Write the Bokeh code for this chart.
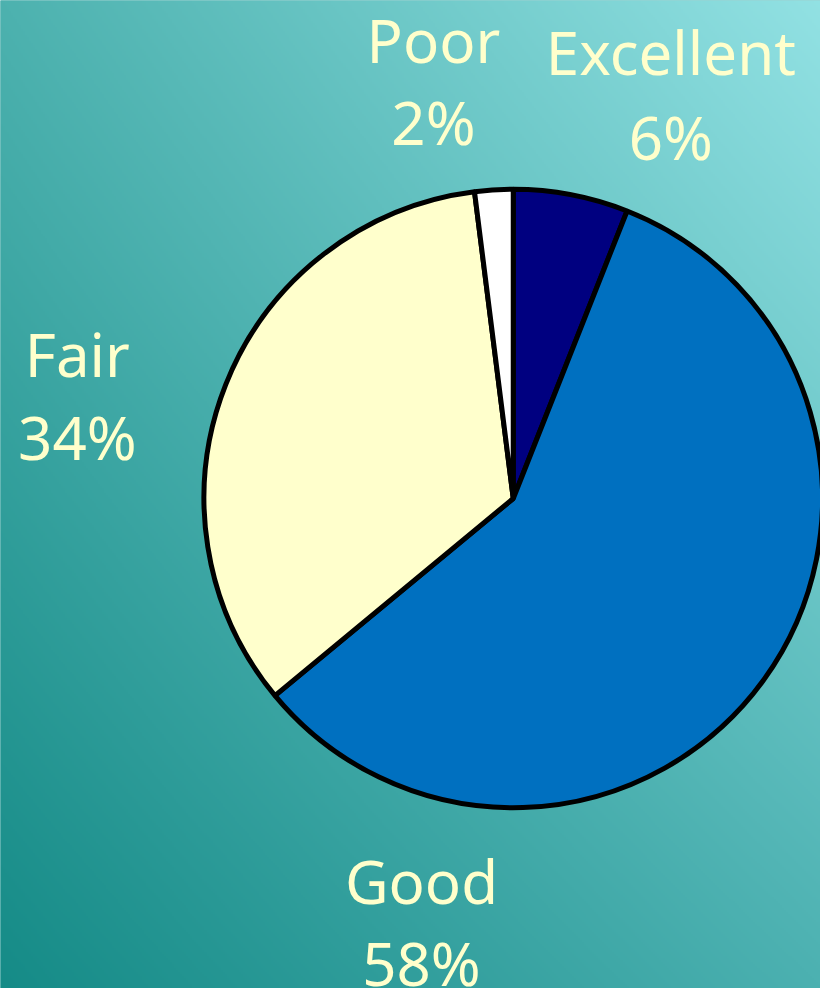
import numpy as np
from bokeh.plotting import figure
from bokeh.models import Range1d, ColumnDataSource
from bokeh.core.properties import value
from bokeh.embed import file_html
from bokeh.resources import INLINE

# ---- data ----
categories = ["Excellent", "Good", "Fair", "Poor"]
percents = [6, 58, 34, 2]
pct_labels = ["6%", "58%", "34%", "2%"]
colors = ["#000080", "#0070C0", "#FFFFCC", "#FFFFFF"]

# ---- layout (screen px of reference, y downward) ----
W, H = 820, 988
OFF = 0
cx, cy, R = 512, 497, 310
label_pos = {"Excellent": (670, 50, 135), "Good": (420, 880, 962),
             "Fair": (75, 352, 435), "Poor": (432, 38, 120)}

p = figure(width=W, height=H, output_backend="svg", toolbar_location=None,
           x_range=Range1d(OFF - 2, OFF + W), y_range=Range1d(-(OFF + H), -OFF + 2),
           min_border=0, background_fill_color="#3AA6A3",
           border_fill_color="#3AA6A3")
p.axis.visible = False
p.grid.visible = False
p.outline_line_color = None

# gradient background (dark bottom-left to light top-right)
ny, nx = H // 2, W // 2
xs = np.linspace(0, 1, nx)[None, :]
ys = np.linspace(0, 1, ny)[:, None]  # 0 bottom -> 1 top (image row 0 is bottom)
tl = np.array([0x4D, 0xB2, 0xAF]); tr = np.array([0x93, 0xE2, 0xE4])
bl = np.array([0x15, 0x8B, 0x87]); br = np.array([0x4C, 0xB1, 0xB1])
img = ((1 - xs)[..., None] * (1 - ys)[..., None] * bl + xs[..., None] * (1 - ys)[..., None] * br
       + (1 - xs)[..., None] * ys[..., None] * tl + xs[..., None] * ys[..., None] * tr)
rgba = np.zeros((ny, nx), dtype=np.uint32)
view = rgba.view(dtype=np.uint8).reshape((ny, nx, 4))
view[..., :3] = img.astype(np.uint8)
view[..., 3] = 255
p.image_rgba(image=[rgba], x=OFF - 4, y=-(OFF + H) - 2, dw=W + 8, dh=H + 8)

# pie wedges, clockwise from 12 o'clock
fr = np.array(percents) / sum(percents)
ends_cum = np.cumsum(fr)
starts_cum = ends_cum - fr
start_ang = np.pi / 2 - 2 * np.pi * starts_cum
end_ang = np.pi / 2 - 2 * np.pi * ends_cum
src = ColumnDataSource(dict(start=start_ang, end=end_ang, color=colors))
p.wedge(x=cx, y=-cy, radius=R, start_angle="start", end_angle="end",
        direction="clock", fill_color="color", line_color="black",
        line_width=5, source=src)

# labels
lx = [label_pos[c][0] for c in categories]
ly1 = [-label_pos[c][1] for c in categories]
ly2 = [-label_pos[c][2] for c in categories]
for ys_, txt in ((ly1, categories), (ly2, pct_labels)):
    p.text(x=lx, y=ys_, text=txt, text_align="center", text_baseline="middle",
           text_color="#FFFFCC", text_font=value("Noto Sans"),
           text_font_size="60px")

open("out.html", "w").write(file_html(p, INLINE))
